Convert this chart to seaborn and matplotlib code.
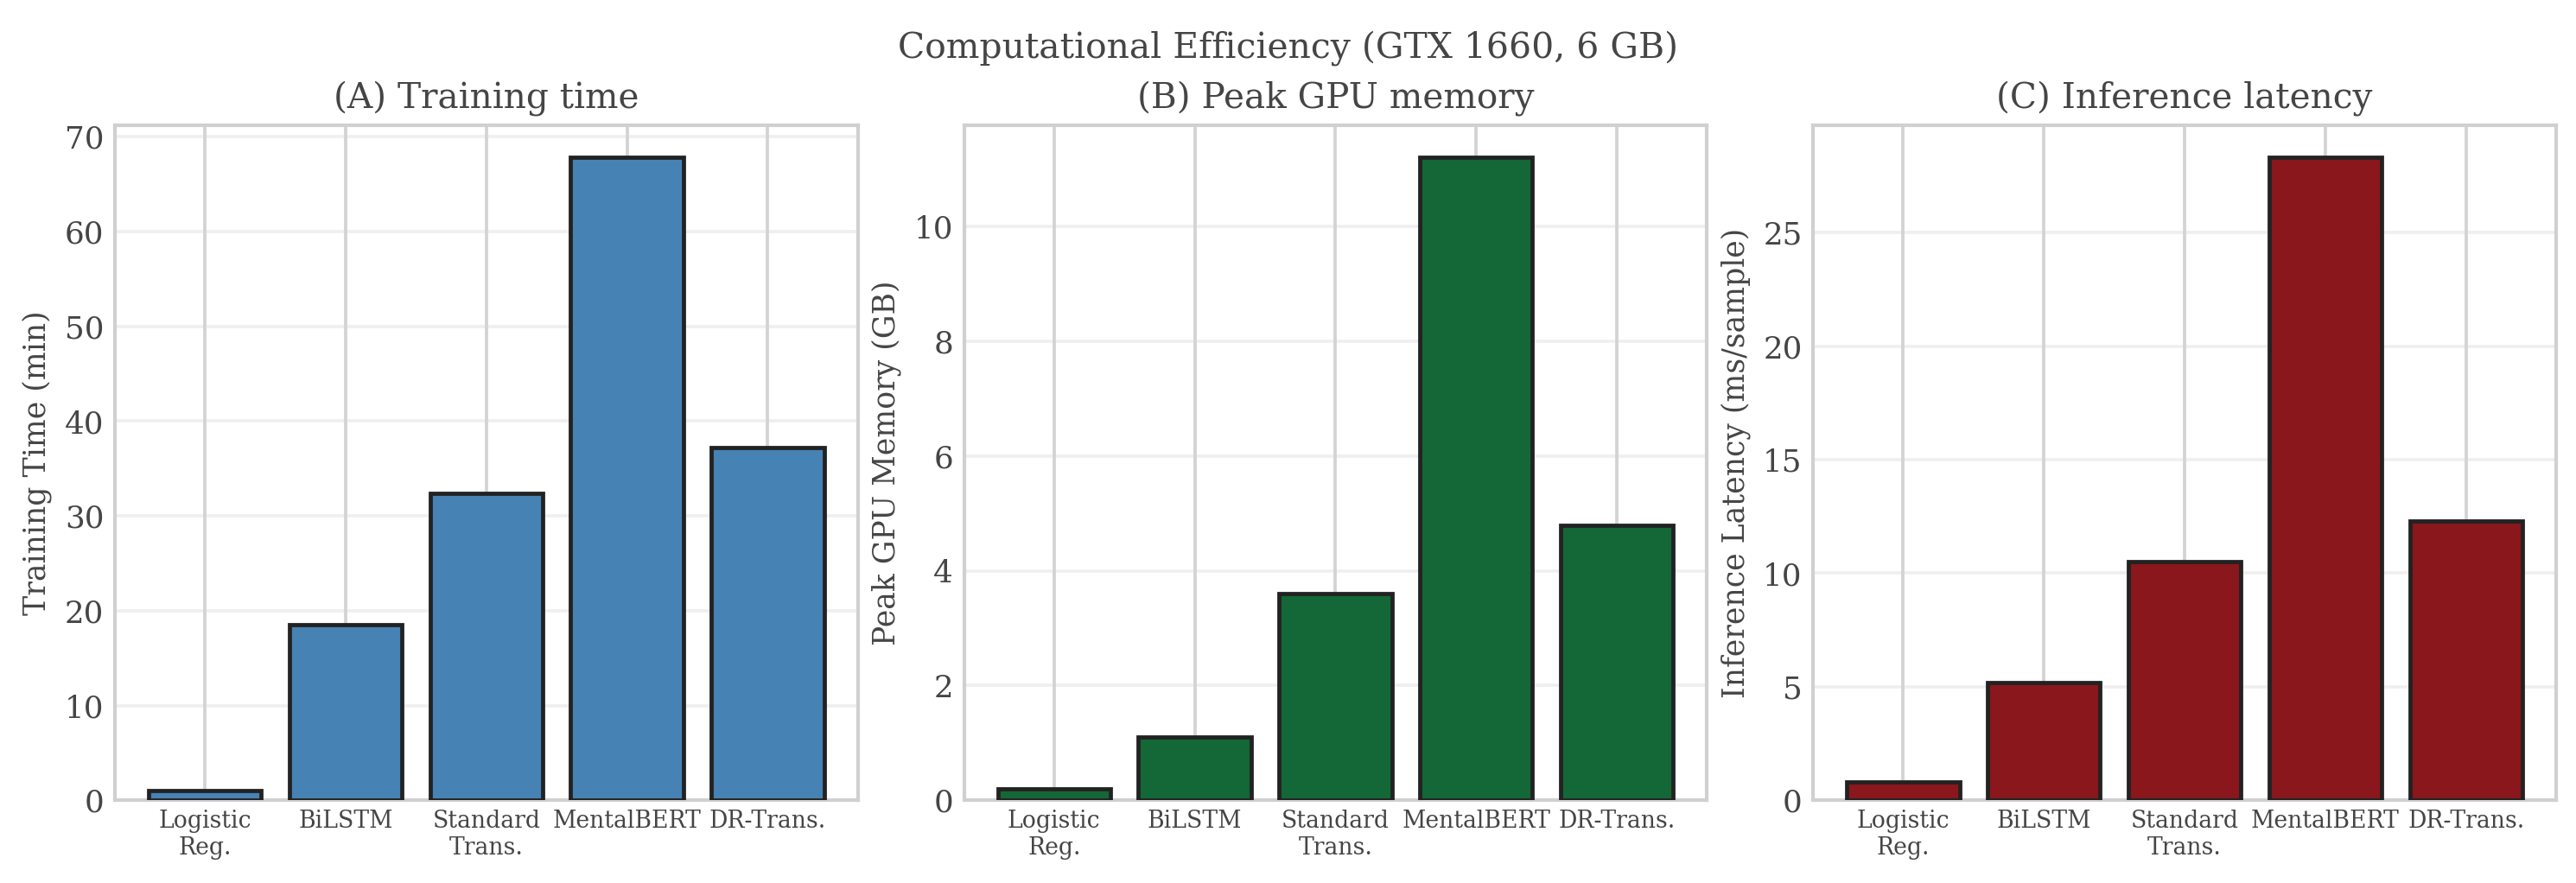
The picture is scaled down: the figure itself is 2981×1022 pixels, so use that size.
import matplotlib
matplotlib.use("Agg")
import matplotlib.pyplot as plt
import seaborn as sns
import pandas as pd

# Chart data
models = ["Logistic\nReg.", "BiLSTM", "Standard\nTrans.", "MentalBERT", "DR-Trans."]
train_time_min = [1.0, 18.5, 32.4, 67.8, 37.2]
peak_mem_gb = [0.2, 1.1, 3.6, 11.2, 4.8]
latency_ms = [0.8, 5.2, 10.5, 28.3, 12.3]

panel_titles = ["(A) Training time", "(B) Peak GPU memory", "(C) Inference latency"]
y_labels = ["Training Time (min)", "Peak GPU Memory (GB)", "Inference Latency (ms/sample)"]
bar_colors = ["#4682b4", "#146736", "#89171c"]

TEXT = "#454545"

sns.set_theme(style="whitegrid")
plt.rcParams["font.family"] = ["DejaVu Serif"]
plt.rcParams["text.color"] = TEXT
plt.rcParams["axes.labelcolor"] = TEXT
plt.rcParams["xtick.color"] = TEXT
plt.rcParams["ytick.color"] = TEXT

fig, axes = plt.subplots(1, 3, figsize=(9.937, 3.407), dpi=300)
fig.subplots_adjust(left=0.0446, right=0.9922, top=0.8578, bottom=0.0936, wspace=0.143)

for ax, vals, title, ylab, col in zip(axes, [train_time_min, peak_mem_gb, latency_ms],
                                       panel_titles, y_labels, bar_colors):
    df = pd.DataFrame({"model": models, "value": vals})
    sns.barplot(data=df, x="model", y="value", color=col, saturation=1,
                edgecolor="#222222", linewidth=1.15, width=0.8, ax=ax, zorder=3)
    ax.set_xlim(-0.64, len(models) - 0.36)
    ax.set_ylim(0, max(vals) * 1.05)
    ax.set_title(title, fontsize=9.75, color=TEXT, pad=5)
    ax.set_xlabel("")
    ax.set_ylabel(ylab, fontsize=8.3, labelpad=3.5)
    ax.tick_params(axis="x", labelsize=6.4, pad=2.5, length=0)
    ax.tick_params(axis="y", labelsize=8.6, pad=3, length=0)
    ax.xaxis.grid(True, color="#d3d3d3", linewidth=0.9, zorder=0)
    ax.yaxis.grid(True, color="#d3d3d3", linewidth=0.9, alpha=0.35, zorder=0)
    ax.set_axisbelow(True)
    for sp in ax.spines.values():
        sp.set_color("#d0d0d3")
        sp.set_linewidth(1.0)

fig.suptitle("Computational Efficiency (GTX 1660, 6 GB)", fontsize=9.8, color=TEXT, y=0.966)

fig.savefig("out.png", dpi=300)
